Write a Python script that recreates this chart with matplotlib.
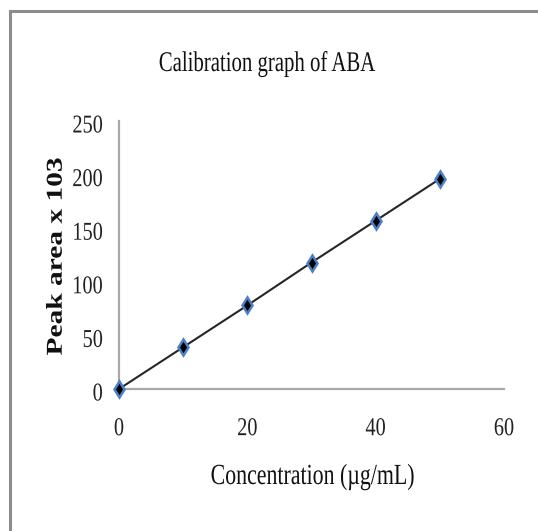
import matplotlib
matplotlib.use("Agg")
import matplotlib.pyplot as plt
from matplotlib.patheffects import AbstractPathEffect
from matplotlib.transforms import Affine2D, ScaledTranslation
from matplotlib.lines import Line2D

# ---- data ----
concentration = [0, 10, 20, 30, 40, 50]
peak_area = [0, 39, 78, 118, 157, 196]
x_ticks = [0, 20, 40, 60]
y_ticks = [0, 50, 100, 150, 200, 250]
title_text = "Calibration graph of ABA"
x_label = "Concentration (\u00b5g/mL)"
y_label = "Peak area x 103"


class Squeeze(AbstractPathEffect):
    """Horizontally rescale a text path (condensed / expanded look)."""
    def __init__(self, sx, anchor="center"):
        super().__init__()
        self.sx = sx
        self.anchor = anchor

    def draw_path(self, renderer, gc, tpath, affine, rgbFace=None):
        ext = tpath.get_extents()
        if self.anchor == "right":
            cx = ext.x1
        elif self.anchor == "left":
            cx = ext.x0
        else:
            cx = (ext.x0 + ext.x1) / 2
        t = Affine2D().translate(-cx, 0).scale(self.sx, 1).translate(cx, 0)
        renderer.draw_path(gc, tpath, t + affine, rgbFace)


W, H = 538, 531
fig = plt.figure(figsize=(W / 100, H / 100), dpi=100)
fig.patch.set_facecolor("white")

serif = ["Liberation Serif", "DejaVu Serif"]

# outer frame (top and left edge only)
fig.add_artist(Line2D([10 / W, 10 / W, 1.0], [0.0, 1 - 11 / H, 1 - 11 / H],
                      transform=fig.transFigure, color="#8c8c8c", lw=2.2,
                      solid_joinstyle="miter"))

ax = fig.add_axes([119 / W, 142 / H, (504 - 119) / W, (389 - 121) / H])
ax.set_facecolor("none")

ax.plot(concentration, peak_area, color="#262626", lw=1.5, zorder=2, clip_on=False)
ax.plot(concentration, peak_area, linestyle="none", marker="d", ms=8,
        mfc="black", mec="#4a7fc6", mew=1.8, zorder=3, clip_on=False)

ax.set_xlim(0, 60)
ax.set_ylim(0, 250)
ax.set_xticks(x_ticks)
ax.set_yticks(y_ticks)
ax.set_xticklabels([str(v) for v in x_ticks])
ax.set_yticklabels([str(v) for v in y_ticks])

for s in ["top", "right"]:
    ax.spines[s].set_visible(False)
for s in ["left", "bottom"]:
    ax.spines[s].set_color("#a8a8a8")
    ax.spines[s].set_linewidth(1.6)

ax.tick_params(axis="both", length=0, colors="#222222")
ax.tick_params(axis="x", pad=21)
ax.tick_params(axis="y", pad=11.5)

for lbl in ax.get_xticklabels():
    lbl.set_fontfamily(serif)
    lbl.set_fontsize(18.5)
    lbl.set_path_effects([Squeeze(0.79, "center")])
for lbl in ax.get_yticklabels():
    lbl.set_fontfamily(serif)
    lbl.set_fontsize(18.5)
    lbl.set_path_effects([Squeeze(0.79, "right")])
    lbl.set_transform(lbl.get_transform() +
                      ScaledTranslation(0, -3 / 100, fig.dpi_scale_trans))

t = fig.text(267 / W, 1 - 71 / H, title_text, ha="center", va="baseline",
             fontsize=20.5, family=serif, color="#111111")
t.set_path_effects([Squeeze(0.73)])

xl = fig.text(312.5 / W, 1 - 484 / H, x_label, ha="center", va="baseline",
              fontsize=21, family=serif, color="#111111")
xl.set_path_effects([Squeeze(0.75)])

yl = fig.text(61.7 / W, 1 - 256.5 / H, y_label, rotation=90, rotation_mode="anchor",
              ha="center", va="baseline", fontsize=16.3, family=serif,
              fontweight="bold", color="#111111")
yl.set_path_effects([Squeeze(1.3)])

fig.savefig("out.png", dpi=100, facecolor="white")
